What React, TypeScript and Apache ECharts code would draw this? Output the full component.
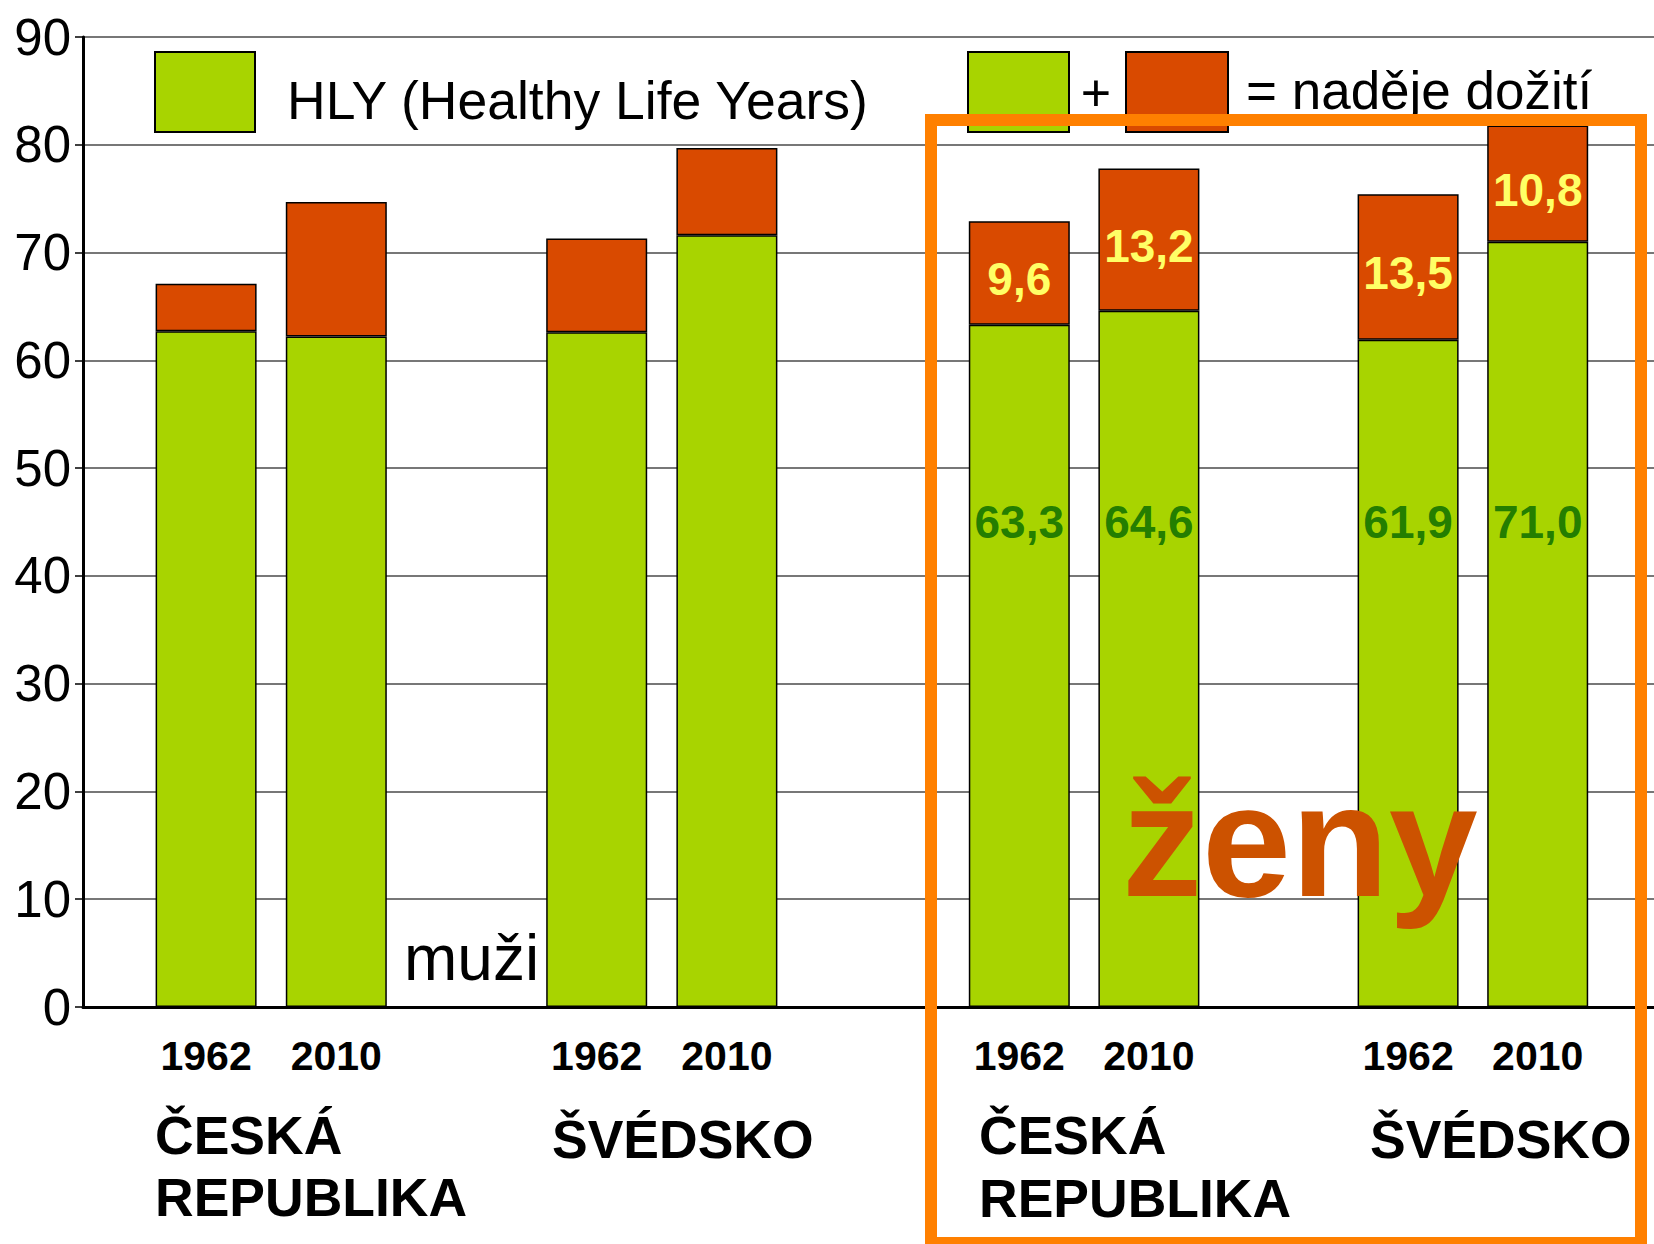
import React, { useEffect, useRef } from 'react';
import * as echarts from 'echarts';

// ---- data ----
const Y_MIN = 0;
const Y_MAX = 90;
const Y_STEP = 10;

const menCategories = ['1962', '2010', '', '1962', '2010'];
const womenCategories = ['1962', '2010', '', '1962', '2010'];

// HLY = healthy life years (green), gap = remaining life expectancy (red)
const hlyMen = [62.7, 62.2, '-', 62.6, 71.6];
const gapMen = [4.4, 12.5, '-', 8.7, 8.1];
const hlyWomen = [63.3, 64.6, '-', 61.9, 71.0];
const gapWomen = [9.6, 13.2, '-', 13.5, 10.8];

const countryCZ = ['ČESKÁ', 'REPUBLIKA'];
const countrySE = ['ŠVÉDSKO'];
const legendHLY = 'HLY (Healthy Life Years)';
const legendSum = '= naděje dožití';
const labelMen = 'muži';
const labelWomen = 'ženy';

// level (in years) at which the green value labels are written
const GREEN_LABEL_LEVEL = 45;

// ---- styles ----
const GREEN = '#A8D400';
const RED = '#D94A00';
const FONT = '"Liberation Sans", Arial, sans-serif';
const fmt = (v: number) => v.toFixed(1).replace('.', ',');

const PLOT_TOP = 37;
const PLOT_H = 970;

function buildOption() {
  const barStyle = (c: string) => ({ color: c, borderColor: '#000', borderWidth: 1.5 });
  const yearAxis = (gridIndex: number, data: string[]) => ({
    type: 'category',
    gridIndex,
    data,
    axisLine: { show: false },
    axisTick: { show: false },
    splitLine: { show: false },
    axisLabel: {
      interval: 0,
      margin: 28,
      color: '#000',
      fontSize: 41,
      fontWeight: 'bold',
      fontFamily: FONT,
    },
  });
  const hiddenY = (gridIndex: number) => ({
    type: 'value',
    gridIndex,
    min: Y_MIN,
    max: Y_MAX,
    interval: Y_STEP,
    show: false,
  });

  const txt = (text: string, x: number, y: number, size: number, weight: string, fill: string, align = 'left') => ({
    type: 'text',
    z: 50,
    style: {
      text,
      x,
      y,
      fill,
      fontSize: size,
      fontWeight: weight,
      fontFamily: FONT,
      align,
      textAlign: align,
      verticalAlign: 'middle',
      textVerticalAlign: 'middle',
    },
  });

  return {
    animation: false,
    backgroundColor: '#fff',
    grid: [
      { left: 83, top: PLOT_TOP, width: 1571, height: PLOT_H, containLabel: false },
      { left: 141, top: PLOT_TOP, width: 651, height: PLOT_H, containLabel: false },
      { left: 954.5, top: PLOT_TOP, width: 648, height: PLOT_H, containLabel: false },
    ],
    xAxis: [
      {
        type: 'category',
        gridIndex: 0,
        data: [''],
        axisLine: { show: true, lineStyle: { color: '#000', width: 3 } },
        axisTick: { show: false },
        axisLabel: { show: false },
        splitLine: { show: false },
      },
      yearAxis(1, menCategories),
      yearAxis(2, womenCategories),
    ],
    yAxis: [
      {
        type: 'value',
        gridIndex: 0,
        min: Y_MIN,
        max: Y_MAX,
        interval: Y_STEP,
        axisLine: { show: true, lineStyle: { color: '#000', width: 3 } },
        axisTick: { show: true, length: 8, lineStyle: { color: '#000', width: 1.5 } },
        axisLabel: {
          margin: 12,
          color: '#000',
          fontSize: 51,
          fontFamily: FONT,
          padding: [0, 0, 9, 0],
        },
        splitLine: { show: true, lineStyle: { color: '#4a4a4a', width: 1.5 } },
      },
      hiddenY(1),
      hiddenY(2),
    ],
    series: [
      {
        name: 'HLY muži',
        type: 'bar',
        xAxisIndex: 1,
        yAxisIndex: 1,
        stack: 'men',
        barWidth: 101,
        data: hlyMen,
        itemStyle: barStyle(GREEN),
      },
      {
        name: 'zbytek muži',
        type: 'bar',
        xAxisIndex: 1,
        yAxisIndex: 1,
        stack: 'men',
        barWidth: 101,
        data: gapMen,
        itemStyle: barStyle(RED),
      },
      {
        name: 'HLY ženy',
        type: 'bar',
        xAxisIndex: 2,
        yAxisIndex: 2,
        stack: 'women',
        barWidth: 101,
        data: hlyWomen,
        itemStyle: barStyle(GREEN),
      },
      {
        name: 'zbytek ženy',
        type: 'bar',
        xAxisIndex: 2,
        yAxisIndex: 2,
        stack: 'women',
        barWidth: 101,
        data: gapWomen,
        itemStyle: barStyle(RED),
        label: {
          show: true,
          position: 'inside',
          offset: [0, 6],
          color: '#FFFF66',
          fontSize: 46,
          fontWeight: 'bold',
          fontFamily: FONT,
          formatter: (p: any) => fmt(p.value),
        },
      },
      {
        name: 'HLY ženy popisky',
        type: 'scatter',
        xAxisIndex: 2,
        yAxisIndex: 2,
        symbolSize: 0,
        z: 5,
        data: hlyWomen.map((v, i) => (v === '-' ? '-' : [i, GREEN_LABEL_LEVEL])),
        label: {
          show: true,
          position: 'inside',
          color: '#006600',
          fontSize: 46,
          fontWeight: 'bold',
          fontFamily: FONT,
          formatter: (p: any) => fmt(hlyWomen[p.dataIndex] as number),
        },
      },
    ],
    graphic: [
      // legend
      { type: 'rect', z: 40, shape: { x: 155, y: 52, width: 100, height: 80 }, style: { fill: GREEN, stroke: '#000', lineWidth: 2 } },
      txt(legendHLY, 287, 100, 53.5, 'normal', '#000'),
      { type: 'rect', z: 40, shape: { x: 968, y: 52, width: 101, height: 80 }, style: { fill: GREEN, stroke: '#000', lineWidth: 2 } },
      txt('+', 1096, 93, 52, 'normal', '#000', 'center'),
      { type: 'rect', z: 40, shape: { x: 1126, y: 52, width: 102, height: 80 }, style: { fill: RED, stroke: '#000', lineWidth: 2 } },
      txt(legendSum, 1246, 90, 53, 'normal', '#000'),
      // country names
      txt(countryCZ[0], 155, 1135, 53.5, 'bold', '#000'),
      txt(countryCZ[1], 155, 1197, 53.5, 'bold', '#000'),
      txt(countrySE[0], 552, 1139, 53.5, 'bold', '#000'),
      txt(countryCZ[0], 979, 1135, 53.5, 'bold', '#000'),
      txt(countryCZ[1], 979, 1198, 53.5, 'bold', '#000'),
      txt(countrySE[0], 1370, 1139, 53.5, 'bold', '#000'),
      // group captions
      txt(labelMen, 404, 958, 64, 'normal', '#000'),
      txt(labelWomen, 1122, 840, 160, 'bold', '#CC5200'),
      // highlight frame
      {
        type: 'rect',
        z: 60,
        shape: { x: 931, y: 120, width: 710, height: 1123 },
        style: { fill: 'none', stroke: '#FF8000', lineWidth: 12 },
      },
    ],
  };
}

export default function App() {
  const ref = useRef<HTMLDivElement>(null);
  useEffect(() => {
    if (!ref.current) return;
    const chart = echarts.init(ref.current, null, { renderer: 'svg' });
    chart.setOption(buildOption() as any);
    return () => chart.dispose();
  }, []);
  return (
    <div
      ref={ref}
      style={{ position: 'absolute', left: 0, top: 0, width: 1654, height: 1244, background: '#fff' }}
    />
  );
}
